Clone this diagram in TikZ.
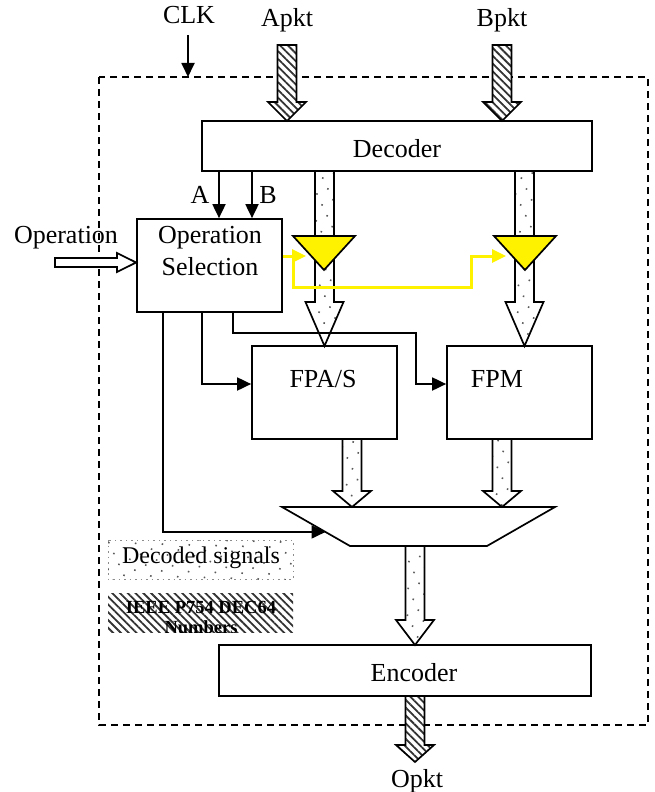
\documentclass[tikz,border=0pt]{standalone}
\usepackage{fontspec}
\setmainfont{Liberation Serif}
\usetikzlibrary{patterns.meta,arrows.meta,calc}
\newcommand\fatdown[5]{\draw[#5] (#1-9.5,#2) -- (#1+9.5,#2) -- (#1+9.5,#3) -- (#1+19,#3) -- (#1,#4) -- (#1-19,#3) -- (#1-9.5,#3) -- cycle;}
\tikzset{
 blk/.style={draw, line width=1.7pt, fill=white, inner sep=0pt},
 lbl/.style={font=\fontsize{26}{30}\selectfont, inner sep=0pt, anchor=base},
 ctl/.style={line width=1.8pt, -{Triangle[length=14pt,width=13pt]}},
 hatchar/.style={draw, line width=1.7pt, preaction={fill=white}, pattern={Lines[angle=-45,distance=5.5pt,line width=1.8pt]}, pattern color=black!80},
 dotar/.style={draw, line width=1.7pt, preaction={fill=white}, pattern={Dots[radius=1.1pt,distance=12pt,angle=25]}, pattern color=black!65},
 yel/.style={draw=yellow, line width=3pt, -{Triangle[length=14pt,width=13pt]}},
 tri/.style={draw, line width=1.7pt, fill=yellow},
 legdot/.style={draw=black!45, line width=0.8pt, dash pattern=on 1.5pt off 4pt, pattern={Dots[radius=1.1pt,distance=12pt,angle=25]}, pattern color=black!65},
}
\begin{document}
\begin{tikzpicture}[x=1pt,y=-1pt]
\useasboundingbox (0,0) rectangle (654,792);
% dashed border
\draw[line width=1.8pt, dash pattern=on 7pt off 5pt] (99,77) rectangle (648,725);
% boxes
\node[blk, minimum width=390pt, minimum height=50pt] (dec) at (397,146) {};
\node[blk, minimum width=145pt, minimum height=93pt] (sel) at (209.5,265.5) {};
\node[blk, minimum width=145pt, minimum height=93pt] (fpa) at (324.5,392.5) {};
\node[blk, minimum width=145pt, minimum height=93pt] (fpm) at (519.5,392.5) {};
\node[blk, minimum width=372pt, minimum height=51pt] (enc) at (405,670.5) {};
% mux
\draw[line width=1.7pt, fill=white] (282,507) coordinate (m1) -- (555,507) coordinate (m2) -- (487,546) coordinate (m3) -- (350,546) coordinate (m4) -- cycle;
% legend
\draw[legdot] (108,540) rectangle (293,579);
\fill[pattern={Lines[angle=-45,distance=5.5pt,line width=1.8pt]}, pattern color=black!80] (108,593) rectangle (293,632);
% fat arrows
\fatdown{287}{45}{102}{121}{hatchar}
\fatdown{502}{45}{102}{121}{hatchar}
\fatdown{324.5}{171}{302}{346}{dotar}
\fatdown{524.5}{171}{302}{346}{dotar}
\fatdown{352}{439}{491}{507}{dotar}
\fatdown{502}{439}{491}{507}{dotar}
\fatdown{415}{546}{620}{645}{dotar}
\fatdown{415}{696}{745}{762}{hatchar}
% operation hollow arrow
\draw[line width=1.7pt, fill=white] (55,258) -- (117,258) -- (117,253) -- (sel.west |- 0,262.5) -- (117,272) -- (117,267) -- (55,267) -- cycle;
% control lines
\coordinate (clktop) at (188,35);
\coordinate (xa) at (219,0);
\coordinate (xb) at (252,0);
\draw[ctl] (clktop) -- (188,77);
\draw[ctl] (dec.south -| xa) -- (sel.north -| xa);
\draw[ctl] (dec.south -| xb) -- (sel.north -| xb);
\draw[ctl] (163,312) -- (163,532) -- ($(m1)!0.64!(m4)$);
\draw[ctl] (202,312) -- (202,384) -- (fpa.west |- 0,384);
\draw[ctl] (233,312) -- (233,333) -- (416,333) -- (416,384) -- (fpm.west |- 0,384);
% yellow triangles
\draw[tri] (293,236) -- (355,236) -- (324,270) -- cycle;
\draw[tri] (494,236) -- (556,236) -- (525,270) -- cycle;
\draw[yel] (sel.east |- 0,256) -- (306,256);
\draw[yel] (293,256) -- (293,287) -- (471,287) -- (471,256) -- (506,256);
% texts
\node[lbl] at (397,157) {Decoder};
\node[lbl] at (210,243) {Operation};
\node[lbl] at (210,275) {Selection};
\node[lbl] at (323,387) {FPA/S};
\node[lbl] at (497,387) {FPM};
\node[lbl] at (414,681) {Encoder};
\node[lbl] at (189,24) {CLK};
\node[lbl] at (287,27) {Apkt};
\node[lbl] at (502,27) {Bpkt};
\node[lbl] at (66,243) {Operation};
\node[lbl] at (200,203) {A};
\node[lbl] at (268,203) {B};
\node[lbl] at (417,787) {Opkt};
\node[lbl, font=\fontsize{24}{28}\selectfont] at (201,563) {Decoded signals};
\begin{scope}
\clip (108,593) rectangle (293,632);
\node[lbl, font=\bfseries\fontsize{18.5}{20}\selectfont] at (201,613) {IEEE P754 DEC64};
\node[lbl, font=\bfseries\fontsize{18.5}{20}\selectfont] at (201,633) {Numbers};
\end{scope}
\end{tikzpicture}
\end{document}
